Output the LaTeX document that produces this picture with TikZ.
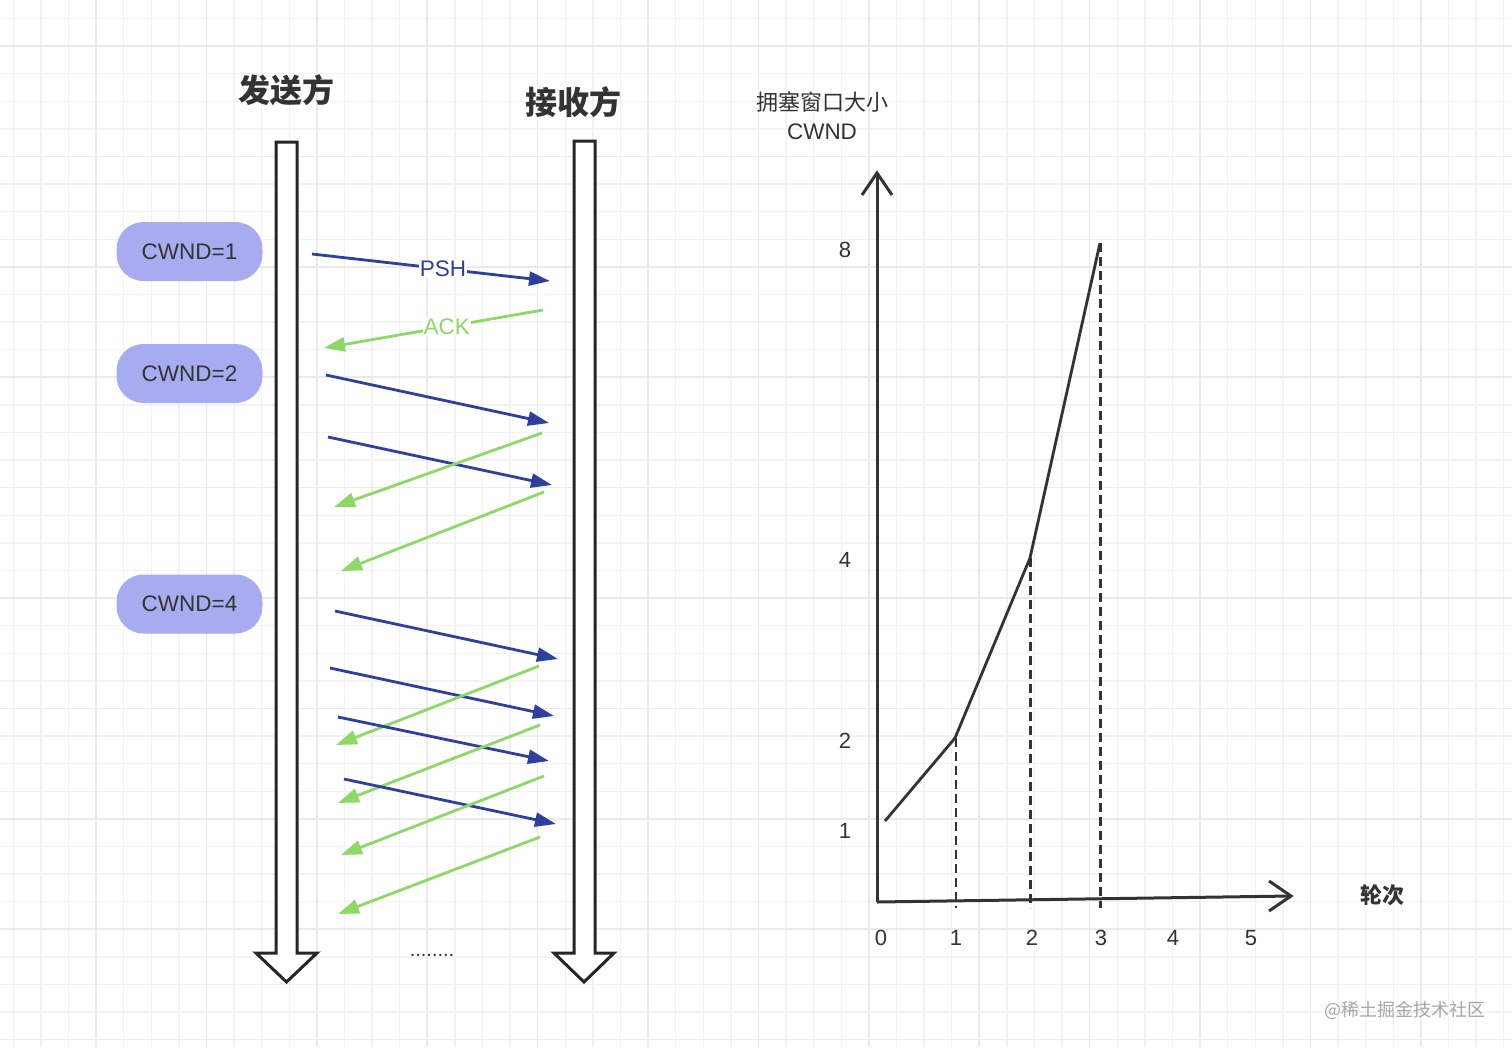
\documentclass[tikz,border=0pt]{standalone}
\usepackage{fontspec}
\setmainfont{Liberation Sans}
\newfontfamily\cjk{Noto Sans CJK SC}
\usetikzlibrary{arrows.meta}
\definecolor{pshc}{HTML}{2E3F9E}
\definecolor{ackc}{HTML}{8DD867}
\definecolor{boxfill}{HTML}{A7ABF0}
\definecolor{ink}{HTML}{333333}
\definecolor{gridminor}{HTML}{F2F2F2}
\definecolor{gridmajor}{HTML}{EAEAEA}
\begin{document}
\begin{tikzpicture}[x=1pt,y=-1pt,
  msg/.style={line width=2.8pt,-{Triangle[length=21pt,width=14pt]}},
  pshmsg/.style={msg,draw=pshc},
  ackmsg/.style={msg,draw=ackc},
  cwndbox/.style={rounded corners=27pt,fill=boxfill,minimum width=146pt,minimum height=59pt,
    font=\fontsize{22.5}{26}\selectfont,text=ink,inner sep=0pt},
  lane/.style={draw=black!85,line width=3pt,fill=white,line join=miter},
  title/.style={font=\cjk\bfseries\fontsize{32}{36}\selectfont,text=ink},
  msglabel/.style={fill=white,inner sep=1pt,font=\fontsize{22.5}{26}\selectfont},
  axis/.style={draw=ink,line width=3pt},
  guide/.style={draw=ink,line width=2.6pt,dash pattern=on 9pt off 5pt},
  tick/.style={font=\fontsize{22}{26}\selectfont,text=ink},
]
\useasboundingbox (0,0) rectangle (1512,1047);
\fill[white] (0,0) rectangle (1512,1047);
% grid
\foreach \i in {0,...,54} {\draw[gridminor,line width=1.4pt] ({13.2+27.6*\i},0) -- ({13.2+27.6*\i},1047);}
\foreach \i in {0,...,37} {\draw[gridminor,line width=1.4pt] (0,{18.4+27.6*\i}) -- (1512,{18.4+27.6*\i});}
\foreach \k in {0,...,12} {\draw[gridmajor,line width=1.6pt] ({96+110.4*\k},0) -- ({96+110.4*\k},1047);}
\foreach \k in {0,...,9} {\draw[gridmajor,line width=1.6pt] (0,{46+110.4*\k}) -- (1512,{46+110.4*\k});}

% titles
\node[title] (sender) at (286,90) {发送方};
\node[title] (receiver) at (573,102) {接收方};

% lanes
\draw[lane] (276,142) -- (297,142) -- (297,953) -- (317,953) -- (286.5,982) -- (256,953) -- (276,953) -- cycle;
\draw[lane] (574,141) -- (595,141) -- (595,953) -- (614,953) -- (584,982) -- (554,953) -- (574,953) -- cycle;

% cwnd boxes
\node[cwndbox] (c1) at (189.5,251.5) {CWND=1};
\node[cwndbox] (c2) at (189.5,373.5) {CWND=2};
\node[cwndbox] (c4) at (189.5,604) {CWND=4};

% message endpoints
\coordinate (p1s) at (312,254); \coordinate (p1e) at (550,281);
\coordinate (a1s) at (543,310); \coordinate (a1e) at (324,348);
\coordinate (p2s) at (326,375); \coordinate (p2e) at (549,423);
\coordinate (p3s) at (328,437); \coordinate (p3e) at (552,485);
\coordinate (a2s) at (542,433); \coordinate (a2e) at (334,507);
\coordinate (a3s) at (544,492); \coordinate (a3e) at (341,571);
\coordinate (p4s) at (335,611); \coordinate (p4e) at (558,659);
\coordinate (p5s) at (330,668); \coordinate (p5e) at (554,716);
\coordinate (p6s) at (338,717); \coordinate (p6e) at (549,761);
\coordinate (p7s) at (344,779); \coordinate (p7e) at (556,824);
\coordinate (a4s) at (539,666); \coordinate (a4e) at (336,745);
\coordinate (a5s) at (540,725); \coordinate (a5e) at (338,803);
\coordinate (a6s) at (544,776); \coordinate (a6e) at (341,855);
\coordinate (a7s) at (540,837); \coordinate (a7e) at (338,914);

\draw[pshmsg] (p1s) -- node[msglabel,text=pshc,pos=0.55] (psh) {PSH} (p1e);
\draw[ackmsg] (a1s) -- node[msglabel,text=ackc,pos=0.44] (ack) {ACK} (a1e);
\draw[pshmsg] (p2s) -- (p2e);
\draw[pshmsg] (p3s) -- (p3e);
\draw[ackmsg] (a2s) -- (a2e);
\draw[ackmsg] (a3s) -- (a3e);
\draw[pshmsg] (p4s) -- (p4e);
\draw[pshmsg] (p5s) -- (p5e);
\draw[ackmsg] (a4s) -- (a4e);
\draw[pshmsg] (p6s) -- (p6e);
\draw[ackmsg] (a5s) -- (a5e);
\draw[pshmsg] (p7s) -- (p7e);
\draw[ackmsg] (a6s) -- (a6e);
\draw[ackmsg] (a7s) -- (a7e);

\node[font=\fontsize{20}{24}\selectfont,text=ink] (dots) at (432,955) {........};

% chart
\node[font=\cjk\fontsize{22}{26}\selectfont,text=ink] (ylab1) at (822,102) {拥塞窗口大小};
\node[font=\fontsize{22.5}{26}\selectfont,text=ink] (ylab2) at (822,132) {CWND};
\coordinate (origin) at (877,902);
\coordinate (ytip) at (877,173);
\coordinate (xtip) at (1291,896);
\draw[axis] (origin) -- (ytip);
\draw[axis] (origin) -- (xtip);
\draw[axis,line join=miter] (862,195) -- (ytip) -- (892,195);
\draw[axis,line join=miter] (1269,881) -- (xtip) -- (1269,911);

\node[tick] (x0) at (881,938) {0};
\node[tick] (x1) at (956,938) {1};
\node[tick] (x2) at (1032,938) {2};
\node[tick] (x3) at (1101,938) {3};
\node[tick] (x4) at (1173,938) {4};
\node[tick] (x5) at (1251,938) {5};
\node[tick] (y8) at (845,250) {8};
\node[tick] (y4) at (845,560) {4};
\node[tick] (y2) at (845,741) {2};
\node[tick] (y1) at (845,831) {1};

\coordinate (k0) at (885,821);
\coordinate (k1) at (955,738);
\coordinate (k2) at (1030,558);
\coordinate (k3) at (1100,243);
\draw[draw=ink,line width=2.8pt] (k0) -- (k1) -- (k2) -- (k3);
\draw[guide] (956,738) -- (956,908);
\draw[guide] (1030.5,558) -- (1030.5,908);
\draw[guide] (1100.5,243) -- (1100.5,908);

\node[font=\cjk\bfseries\fontsize{22}{26}\selectfont,text=ink] (xlab) at (1382,895) {轮次};
\node[font=\cjk\fontsize{18}{22}\selectfont,text=black!35] (wm) at (1405,1010) {@稀土掘金技术社区};
\end{tikzpicture}
\end{document}
